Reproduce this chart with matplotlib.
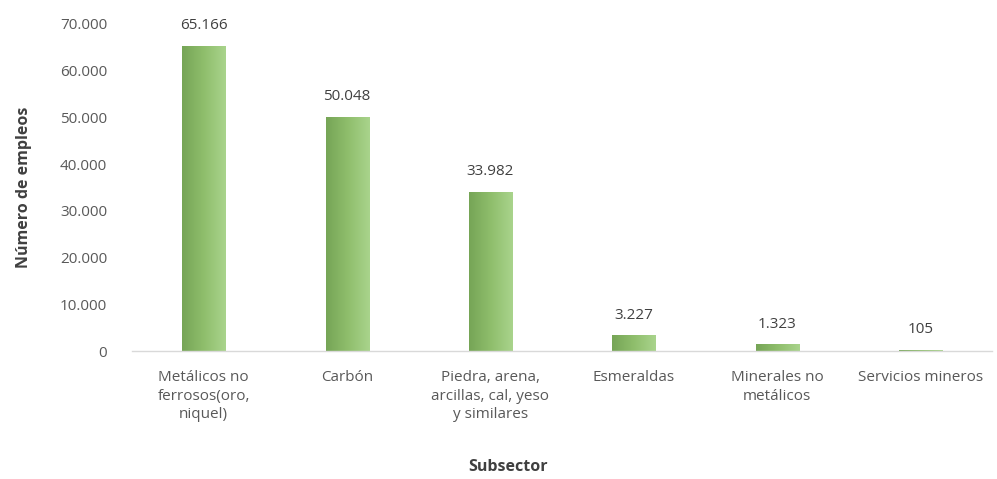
import numpy as np
import matplotlib
matplotlib.use('Agg')
import matplotlib.pyplot as plt
from matplotlib.colors import LinearSegmentedColormap

plt.rcParams['font.family'] = ['Open Sans', 'DejaVu Sans']

categories = ['Metálicos no\nferrosos(oro,\nniquel)', 'Carbón',
              'Piedra, arena,\narcillas, cal, yeso\ny similares', 'Esmeraldas',
              'Minerales no\nmetálicos', 'Servicios mineros']
empleos = [65166, 50048, 33982, 3227, 1323, 105]
value_labels = ['65.166', '50.048', '33.982', '3.227', '1.323', '105']
yticks = [0, 10000, 20000, 30000, 40000, 50000, 60000, 70000]
ytick_labels = ['0', '10.000', '20.000', '30.000', '40.000', '50.000', '60.000', '70.000']

fig = plt.figure(figsize=(9.97, 4.79), dpi=100)
ax = fig.add_axes([0.1324, 0.2672, 0.8626, 0.6828])

x = np.arange(len(categories))
bar_w = 0.3
green = LinearSegmentedColormap.from_list('g', ['#76a556', '#8fbe6c', '#a9d48c'])
grad = np.linspace(0, 1, 64).reshape(1, -1)

for xi, v, lab in zip(x, empleos, value_labels):
    ax.imshow(grad, cmap=green, aspect='auto', extent=(xi - bar_w / 2, xi + bar_w / 2, 0, v),
              zorder=2, interpolation='bilinear')
    ax.text(xi, v + 2800, lab, ha='center', va='bottom', fontsize=11, color='#404040')

ax.set_xlim(-0.5, len(categories) - 0.5)
ax.set_ylim(0, 70000)
ax.set_xticks(x)
ax.set_xticklabels(categories, fontsize=11, color='#595959', linespacing=1.3)
ax.set_yticks(yticks)
ax.set_yticklabels(ytick_labels, fontsize=11, color='#595959')
ax.tick_params(axis='y', length=0, pad=18)
ax.tick_params(axis='x', length=0, pad=14)

for s in ['top', 'right', 'left']:
    ax.spines[s].set_visible(False)
ax.spines['bottom'].set_color('#d9d9d9')
ax.spines['bottom'].set_linewidth(1)

ax.set_ylabel('Número de empleos', fontsize=11.5, fontweight='bold', color='#404040', labelpad=20)
fig.text(0.51, 0.008, 'Subsector', ha='center', va='bottom', fontsize=11.5,
         fontweight='bold', color='#404040')

fig.savefig('out.png', dpi=100)
